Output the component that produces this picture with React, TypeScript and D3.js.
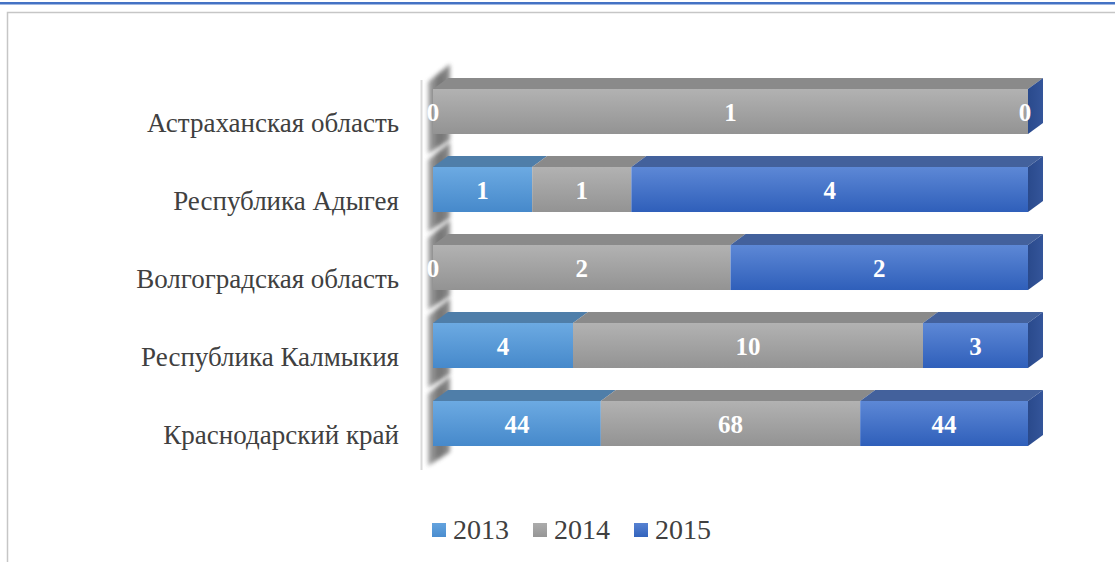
import React from "react";
import * as d3 from "d3";

const categories = [
  "Астраханская область",
  "Республика Адыгея",
  "Волгоградская область",
  "Республика Калмыкия",
  "Краснодарский край",
];
const seriesNames = ["2013", "2014", "2015"];
const values2013 = [0, 1, 0, 4, 44];
const values2014 = [1, 1, 2, 10, 68];
const values2015 = [0, 4, 2, 3, 44];
const seriesValues = [values2013, values2014, values2015];

const W = 1115;
const H = 562;
const DX = 15;
const DY = 11;

const frontTop = ["#6caae2", "#b2b2b2", "#5d88d6"];
const frontBottom = ["#4689cb", "#939393", "#2f5fba"];
const topFace = ["#4f7ea9", "#8a8a8a", "#43619c"];
const legendTop = ["#64a3de", "#acacac", "#5782d2"];
const legendBottom = ["#4a8dcf", "#969696", "#3263bd"];
const textColor = "#404040";
const font = "Liberation Serif, serif";

export default function App() {
  const x = d3.scaleLinear().domain([0, 1]).range([433, 1028]);
  const y = d3
    .scaleBand<string>()
    .domain(categories)
    .range([72.5, 462.5])
    .paddingInner(0.423)
    .paddingOuter(0.2115);
  const bw = y.bandwidth();

  const rows = categories.map((c, i) => {
    const vals = seriesValues.map((s) => s[i]);
    const total = d3.sum(vals);
    let acc = 0;
    const segs = vals.map((v, k) => {
      const x0 = acc / total;
      acc += v;
      return { k, v, x0, x1: acc / total };
    });
    return { c, segs };
  });

  return (
    <svg
      width={W}
      height={H}
      style={{ position: "absolute", left: 0, top: 0, background: "#fff" }}
    >
      <defs>
        {seriesNames.map((s, k) => (
          <linearGradient key={s} id={`front${k}`} x1="0" y1="0" x2="0" y2="1">
            <stop offset="0" stopColor={frontTop[k]} />
            <stop offset="1" stopColor={frontBottom[k]} />
          </linearGradient>
        ))}
        {seriesNames.map((s, k) => (
          <linearGradient key={s} id={`leg${k}`} x1="0" y1="0" x2="0" y2="1">
            <stop offset="0" stopColor={legendTop[k]} />
            <stop offset="1" stopColor={legendBottom[k]} />
          </linearGradient>
        ))}
        <linearGradient id="side" x1="0" y1="0" x2="1" y2="0">
          <stop offset="0" stopColor="#2a4a8c" />
          <stop offset="1" stopColor="#34559a" />
        </linearGradient>
        <linearGradient id="shadow" x1="0" y1="0" x2="1" y2="0">
          <stop offset="0" stopColor="#9a9a9a" />
          <stop offset="0.5" stopColor="#5a5a5a" />
          <stop offset="1" stopColor="#7a7a7a" />
        </linearGradient>
        <filter id="blur" x="-50%" y="-20%" width="200%" height="140%">
          <feGaussianBlur stdDeviation="2.2" />
        </filter>
      </defs>

      {/* top blue rule */}
      <rect x={0} y={2} width={W} height={2.5} fill="#4472c4" />

      {/* chart frame */}
      <path
        d={`M7.5,${H} L7.5,12.5 L${W},12.5`}
        fill="none"
        stroke="#c6c6c6"
        strokeWidth={1.5}
      />

      {/* left wall line */}
      <line x1={421.5} x2={421.5} y1={80} y2={470} stroke="#dadada" strokeWidth={2} />

      {/* wall shadows */}
      {rows.map((r) => {
        const t = y(r.c)!;
        const b = t + bw;
        return (
          <polygon
            key={"sh" + r.c}
            points={`428,${t - 7} ${450},${t - 25} ${450},${b + 6} ${428},${b + 20}`}
            fill="url(#shadow)"
            filter="url(#blur)"
            opacity={0.85}
          />
        );
      })}

      {/* bars */}
      {rows.map((r) => {
        const t = y(r.c)!;
        const b = t + bw;
        const xr = x(1);
        return (
          <g key={r.c}>
            {r.segs.map((s) => (
              <g key={s.k}>
                <polygon
                  points={`${x(s.x0)},${t} ${x(s.x0) + DX},${t - DY} ${x(s.x1) + DX},${t - DY} ${x(s.x1)},${t}`}
                  fill={topFace[s.k]}
                />
                <rect
                  x={x(s.x0)}
                  y={t}
                  width={x(s.x1) - x(s.x0)}
                  height={bw}
                  fill={`url(#front${s.k})`}
                />
              </g>
            ))}
            <polygon
              points={`${xr},${t} ${xr + DX},${t - DY} ${xr + DX},${b - DY} ${xr},${b}`}
              fill="url(#side)"
            />
            {r.segs.map((s) => {
              const cx = Math.min(x((s.x0 + s.x1) / 2), x(1) - 3);
              return (
                <text
                  key={"t" + s.k}
                  x={cx}
                  y={t + bw / 2 + 9}
                  textAnchor="middle"
                  fill="#fff"
                  style={{ fontFamily: font, fontWeight: "bold", fontSize: 25 }}
                >
                  {s.v}
                </text>
              );
            })}
            <text
              x={399}
              y={t + bw / 2 + 20}
              textAnchor="end"
              fill={textColor}
              style={{ fontFamily: font, fontSize: 27 }}
            >
              {r.c}
            </text>
          </g>
        );
      })}

      {/* legend */}
      {seriesNames.map((s, k) => {
        const lx = 432 + k * 101;
        return (
          <g key={"lg" + s}>
            <rect x={lx} y={523} width={14} height={14} fill={`url(#leg${k})`} />
            <text
              x={lx + 21}
              y={539}
              fill={textColor}
              style={{ fontFamily: font, fontSize: 28 }}
            >
              {s}
            </text>
          </g>
        );
      })}
    </svg>
  );
}
